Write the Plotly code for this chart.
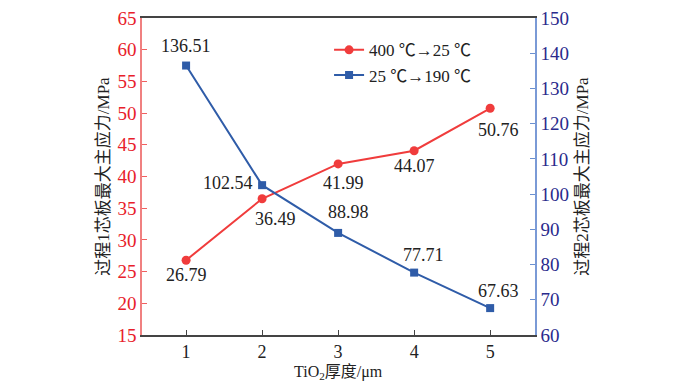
import plotly.graph_objects as go

thickness = [1, 2, 3, 4, 5]
stress1 = [26.79, 36.49, 41.99, 44.07, 50.76]
stress2 = [136.51, 102.54, 88.98, 77.71, 67.63]
name1 = "400 ℃→25 ℃"
name2 = "25 ℃→190 ℃"
left_ticks = [15, 20, 25, 30, 35, 40, 45, 50, 55, 60, 65]
right_ticks = [60, 70, 80, 90, 100, 110, 120, 130, 140, 150]

# label offsets (pixels) relative to each point: style only
off1 = [(0, -15), (13, -20), (5, -19), (0, -15), (8, -22)]
off2 = [(0, 20), (-34, 2), (10, 21), (9, 18), (8, 17)]

serif = "Liberation Serif, Times New Roman, Noto Sans CJK SC"
cjk = "Liberation Serif, Noto Sans CJK SC"

fig = go.Figure()
fig.add_trace(go.Scatter(
    x=thickness, y=stress1, name=name1, mode="lines+markers",
    line=dict(color="#f03c3c", width=2), marker=dict(symbol="circle", size=9, color="#f03c3c"),
))
fig.add_trace(go.Scatter(
    x=thickness, y=stress2, name=name2, mode="lines+markers", yaxis="y2",
    line=dict(color="#2f5ca8", width=2), marker=dict(symbol="square", size=8, color="#2f5ca8"),
))

annotations = []
for xv, yv, (dx, dy) in zip(thickness, stress1, off1):
    annotations.append(dict(x=xv, y=yv, xref="x", yref="y", text=f"{yv:.2f}", showarrow=False,
                            xanchor="center", yanchor="middle", xshift=dx, yshift=dy,
                            font=dict(family=serif, size=18, color="#222")))
for xv, yv, (dx, dy) in zip(thickness, stress2, off2):
    annotations.append(dict(x=xv, y=yv, xref="x", yref="y2", text=f"{yv:.2f}", showarrow=False,
                            xanchor="center", yanchor="middle", xshift=dx, yshift=dy,
                            font=dict(family=serif, size=18, color="#222")))
annotations.append(dict(x=0.5, y=0, xref="paper", yref="paper", text="TiO<sub>2</sub>厚度/μm",
                        showarrow=False, xanchor="center", yanchor="middle", yshift=-37,
                        font=dict(family=cjk, size=16, color="#222")))

# browser body has an 8px margin, so the figure is drawn 8px in from the window edge
fig.update_layout(
    width=683, height=381,
    margin=dict(l=134, r=156, t=10, b=54, autoexpand=False),
    paper_bgcolor="white", plot_bgcolor="white",
    font=dict(family=serif, size=17, color="#222"),
    showlegend=True,
    annotations=annotations,
    legend=dict(x=0.476, y=0.955, xanchor="left", yanchor="top", bgcolor="rgba(0,0,0,0)",
                font=dict(family=serif, size=17, color="#222"), tracegroupgap=0,
                itemwidth=30),
    xaxis=dict(
        range=[0.42, 5.59], tickvals=thickness, ticks="inside", ticklen=5,
        tickcolor="#444", showline=True, linecolor="#444", linewidth=1.5, mirror=True,
        showgrid=False, zeroline=False, automargin=False,
        tickfont=dict(family=serif, size=18, color="#222"),
    ),
    yaxis=dict(
        range=[14.995, 65.005], tickvals=left_ticks, ticks="inside", ticklen=5,
        tickcolor="#f06060", showline=True, linecolor="#f08080", linewidth=1.5,
        showgrid=False, zeroline=False, automargin=False, ticklabeloverflow="allow",
        tickfont=dict(family=serif, size=19, color="#e8202a"),
        title=dict(text="过程1芯板最大主应力/MPa", font=dict(family=cjk, size=17, color="#222"), standoff=4),
    ),
    yaxis2=dict(
        range=[59.99, 150.01], tickvals=right_ticks, ticks="inside", ticklen=5,
        overlaying="y", side="right",
        tickcolor="#6a8fd0", showline=True, linecolor="#7a9ad6", linewidth=1.5,
        showgrid=False, zeroline=False, automargin=False, ticklabeloverflow="allow",
        tickfont=dict(family=serif, size=19, color="#2a2a8c"),
        title=dict(text="过程2芯板最大主应力/MPa", font=dict(family=cjk, size=17, color="#222"), standoff=8),
    ),
)

fig.write_html("out.html")
